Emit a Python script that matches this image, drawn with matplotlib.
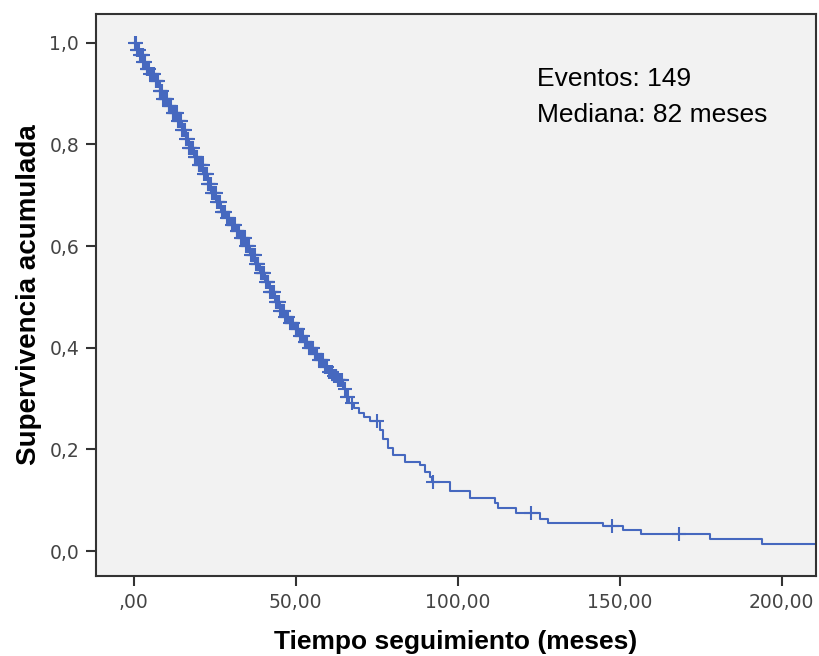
import numpy as np
import matplotlib
matplotlib.use("Agg")
import matplotlib.pyplot as plt

# Kaplan-Meier estimate: time (months) and survival after each step
step_times = [0, 1, 2, 3, 4, 5, 6.5, 8, 9, 10.5, 12, 13.5, 15, 16, 17, 18.5, 20, 21.5,
              23, 24, 25.5, 27, 28.5, 30, 31.5, 33, 34.5, 36, 37.5, 39, 40.5, 42, 43.5,
              45, 46.5, 48, 49.5, 51, 52.5, 54, 55.5, 57, 58.5, 60, 61.5, 63, 64.5, 65.5,
              66.5, 68, 69.5, 71, 73, 76, 77, 78.5, 80, 83.6, 88.3, 89.8, 91.4, 92.2,
              97.5, 103.7, 111.4, 112.5, 118.1, 125.3, 127.8, 144.8, 151, 156.7, 177.8,
              193.9, 215]
step_surv = [1.0, 0.985, 0.975, 0.962, 0.948, 0.938, 0.925, 0.905, 0.890, 0.876, 0.862,
             0.847, 0.828, 0.810, 0.792, 0.775, 0.760, 0.742, 0.722, 0.705, 0.686, 0.668,
             0.655, 0.642, 0.630, 0.615, 0.600, 0.582, 0.565, 0.548, 0.530, 0.510, 0.490,
             0.472, 0.460, 0.448, 0.436, 0.424, 0.412, 0.400, 0.388, 0.376, 0.362, 0.352,
             0.344, 0.337, 0.318, 0.303, 0.292, 0.282, 0.272, 0.263, 0.255, 0.238, 0.220,
             0.203, 0.189, 0.176, 0.169, 0.156, 0.146, 0.136, 0.118, 0.104, 0.094, 0.084,
             0.074, 0.064, 0.056, 0.049, 0.041, 0.033, 0.023, 0.013, 0.013]

# censored observations (+ marks)
censor_times = [0.3, 1, 1.5, 2, 2.5, 3, 3.5, 4, 4.5, 5, 5.5, 6, 7, 7.5, 8, 8.5, 9, 9.5, 10,
                11, 11.5, 12, 12.5, 13, 14, 14.5, 15, 15.5, 16.5, 17, 17.5, 18, 19, 19.5,
                20, 20.5, 21, 22, 22.5, 23, 23.5, 24.5, 25, 26, 26.5, 27.5, 28, 29, 29.5,
                30.5, 31, 32, 32.5, 33.5, 34, 35, 35.5, 36.5, 37, 38, 38.5, 39.5, 40, 41,
                41.5, 42.5, 43, 44, 44.5, 45.5, 46, 47, 47.5, 48.5, 49, 50, 50.5, 51.5, 52,
                53, 53.5, 54.5, 55, 56, 56.5, 57.5, 58, 59, 59.5, 60.5, 61, 62, 62.5, 63,
                63.5, 64, 65.7, 67.3, 75, 92.4, 122.7, 147.6, 168.3,
                0.8, 1.2, 2.3, 2.8, 3.2, 4.2, 4.8, 5.8, 6.3, 6.8, 7.3, 8.2, 8.8, 9.3, 9.8,
                10.3, 10.8, 11.3, 12.2, 12.8, 13.3, 13.8, 14.3, 15.2, 15.8, 16.2, 16.8,
                17.3, 18.3, 18.8, 19.3, 20.3, 20.8, 21.3, 21.8, 22.3, 23.3, 23.8, 24.3,
                24.8, 25.3, 25.8, 26.3, 27.2, 27.8, 28.3, 28.8, 30.2, 30.8, 31.3, 31.8,
                32.3, 33.2, 33.8, 34.3, 34.8, 35.3, 36.2, 36.8, 37.3, 37.8, 38.3, 39.2,
                39.8, 40.3, 40.8, 41.3, 42.2, 42.8, 43.3, 44.2, 44.8, 45.3, 46.3, 46.8,
                47.3, 48.2, 48.8, 49.3, 50.2, 50.8, 51.2, 52.3, 52.8, 53.3, 54.2, 54.8,
                55.3, 55.8, 56.3, 57.2, 57.8, 58.3, 59.3, 60.2, 60.8, 61.3, 61.8, 62.3,
                63.2, 63.8, 64.2, 65.3, 66.2]

xticks = [0, 50, 100, 150, 200]
xtick_labels = [",00", "50,00", "100,00", "150,00", "200,00"]
yticks = [0.0, 0.2, 0.4, 0.6, 0.8, 1.0]
ytick_labels = ["0,0", "0,2", "0,4", "0,6", "0,8", "1,0"]

blue = "#4668BF"
dark = "#333333"

fig = plt.figure(figsize=(8.19, 6.56), dpi=100)
ax = fig.add_axes([0.117, 0.122, 0.879, 0.857])
ax.set_facecolor("#F2F2F2")

ax.step(step_times, step_surv, where="post", color=blue, lw=1.5)

# y of each censor mark taken from the step curve
idx = np.searchsorted(step_times, censor_times, side="right") - 1
cens_y = np.array(step_surv)[idx]
ax.plot(censor_times, cens_y, ls="none", marker="+", ms=10, mew=1.5, color=blue)

ax.set_xlim(-11.7, 210.5)
ax.set_ylim(-0.049, 1.057)
ax.set_xticks(xticks)
ax.set_xticklabels(xtick_labels)
ax.set_yticks(yticks)
ax.set_yticklabels(ytick_labels)
ax.tick_params(direction="out", length=7, width=1.5, color=dark, labelsize=13.5,
               labelcolor="#444444", pad=5)
for lab in ax.get_xticklabels() + ax.get_yticklabels():
    lab.set_family("DejaVu Sans")
for s in ax.spines.values():
    s.set_linewidth(1.5)
    s.set_color(dark)

ax.set_xlabel("Tiempo seguimiento (meses)", family="Liberation Sans", fontweight="bold",
              fontsize=19, labelpad=13)
ax.set_ylabel("Supervivencia acumulada", family="Liberation Sans", fontweight="bold",
              fontsize=20, labelpad=5)

ax.text(0.6125, 0.905, "Eventos: 149\nMediana: 82 meses", transform=ax.transAxes,
        ha="left", va="top", family="Liberation Sans", fontsize=19, linespacing=1.6)

fig.savefig("out.png", dpi=100)
